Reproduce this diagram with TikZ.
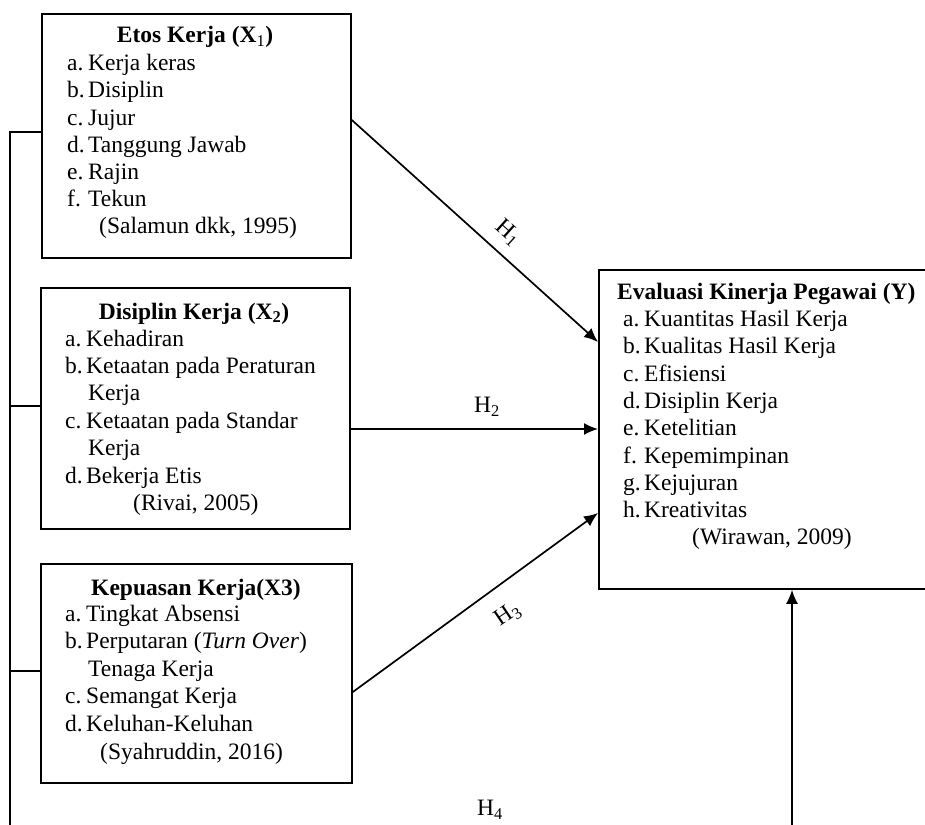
\documentclass[tikz,border=0pt]{standalone}
\usepackage{fontspec}
\setmainfont{Liberation Serif}
\usetikzlibrary{arrows.meta,calc}
\newcommand{\itm}[2]{\makebox[21pt][l]{#1}#2}
\tikzset{
  boxx/.style={draw, line width=1.8pt, inner sep=0, anchor=north west},
  txt/.style={anchor=base west, inner sep=0},
  ttl/.style={anchor=base, inner sep=0},
  conn/.style={line width=1.7pt},
  arr/.style={line width=1.7pt, -{Latex[length=14pt,width=12pt]}},
  hlab/.style={inner sep=0}
}
\begin{document}
\begin{tikzpicture}[x=1pt,y=-1pt,font=\fontsize{23.5}{27.5}\selectfont]
\useasboundingbox (0,0) rectangle (925,824);
\clip (0,0) rectangle (925,824);
% boxes
\node[boxx, minimum width=309pt, minimum height=244pt] (x1) at (41,13) {};
\node[boxx, minimum width=309pt, minimum height=241pt] (x2) at (40,287) {};
\node[boxx, minimum width=311pt, minimum height=219pt] (x3) at (40,563) {};
\node[boxx, minimum width=345pt, minimum height=319pt] (y) at (598,269) {};
% X1 text
\node[ttl] (x1t) at (195,43) {\bfseries Etos Kerja (X\textsubscript{\normalfont 1})};
\node[txt] (x1a) at (67,71) {\itm{a.}{Kerja keras}};
\node[txt] (x1b) at (67,98) {\itm{b.}{Disiplin}};
\node[txt] (x1c) at (67,125) {\itm{c.}{Jujur}};
\node[txt] (x1d) at (67,152) {\itm{d.}{Tanggung Jawab}};
\node[txt] (x1e) at (67,179) {\itm{e.}{Rajin}};
\node[txt] (x1f) at (67,206) {\itm{f.}{Tekun}};
\node[txt] (x1g) at (99,233) {(Salamun dkk, 1995)};
% X2 text
\node[ttl] (x2t) at (194,319) {\bfseries Disiplin Kerja (X\textsubscript{2})};
\node[txt] (x2a) at (65,346) {\itm{a.}{Kehadiran}};
\node[txt] (x2b) at (65,373.4) {\itm{b.}{Ketaatan pada Peraturan}};
\node[txt] (x2b2) at (88,400.8) {Kerja};
\node[txt] (x2c) at (65,428.2) {\itm{c.}{Ketaatan pada Standar}};
\node[txt] (x2c2) at (88,455.6) {Kerja};
\node[txt] (x2d) at (65,483) {\itm{d.}{Bekerja Etis}};
\node[txt] (x2e) at (133,510.4) {(Rivai, 2005)};
% X3 text
\node[ttl] (x3t) at (196,595) {\bfseries Kepuasan Kerja(X3)};
\node[txt] (x3a) at (65,621) {\itm{a.}{Tingkat Absensi}};
\node[txt] (x3b) at (65,648.6) {\itm{b.}{Perputaran (\textit{Turn Over})}};
\node[txt] (x3b2) at (88,676.2) {Tenaga Kerja};
\node[txt] (x3c) at (65,703.8) {\itm{c.}{Semangat Kerja}};
\node[txt] (x3d) at (65,731.4) {\itm{d.}{Keluhan-Keluhan}};
\node[txt] (x3e) at (100,759) {(Syahruddin, 2016)};
% Y text
\node[txt] (yt) at (617,299) {\bfseries Evaluasi Kinerja Pegawai (Y)};
\node[txt] (ya) at (623,326.5) {\itm{a.}{Kuantitas Hasil Kerja}};
\node[txt] (yb) at (623,353.8) {\itm{b.}{Kualitas Hasil Kerja}};
\node[txt] (yc) at (623,381.1) {\itm{c.}{Efisiensi}};
\node[txt] (yd) at (623,408.4) {\itm{d.}{Disiplin Kerja}};
\node[txt] (ye) at (623,435.7) {\itm{e.}{Ketelitian}};
\node[txt] (yf) at (623,463) {\itm{f.}{Kepemimpinan}};
\node[txt] (yg) at (623,490.3) {\itm{g.}{Kejujuran}};
\node[txt] (yh) at (623,517.6) {\itm{h.}{Kreativitas}};
\node[txt] (yi) at (692,544.9) {(Wirawan, 2009)};
% left bus
\coordinate (b1) at (10,132);
\coordinate (b2) at (10,406);
\coordinate (b3) at (10,671);
\coordinate (bend) at (10,826);
\draw[conn] (b1 -| x1.west) -- (b1) -- (bend);
\draw[conn] (b2) -- (b2 -| x2.west);
\draw[conn] (b3) -- (b3 -| x3.west);
% arrows
\draw[arr] (x1.east |- 0,120) -- (y.west |- 0,342);
\draw[arr] (x2.east |- 0,429) -- (y.west |- 0,429);
\draw[arr] (x3.east |- 0,692) -- (y.west |- 0,513);
\coordinate (h4s) at (792,826);
\draw[arr] (h4s) -- (h4s |- y.south);
% labels
\node[hlab, rotate=-42] (h1) at (508,233) {H\textsubscript{1}};
\node[hlab] (h2) at (487,407) {H\textsubscript{2}};
\node[hlab, rotate=34] (h3) at (508,615) {H\textsubscript{3}};
\node[hlab] (h4) at (490,810) {H\textsubscript{4}};
\end{tikzpicture}
\end{document}
